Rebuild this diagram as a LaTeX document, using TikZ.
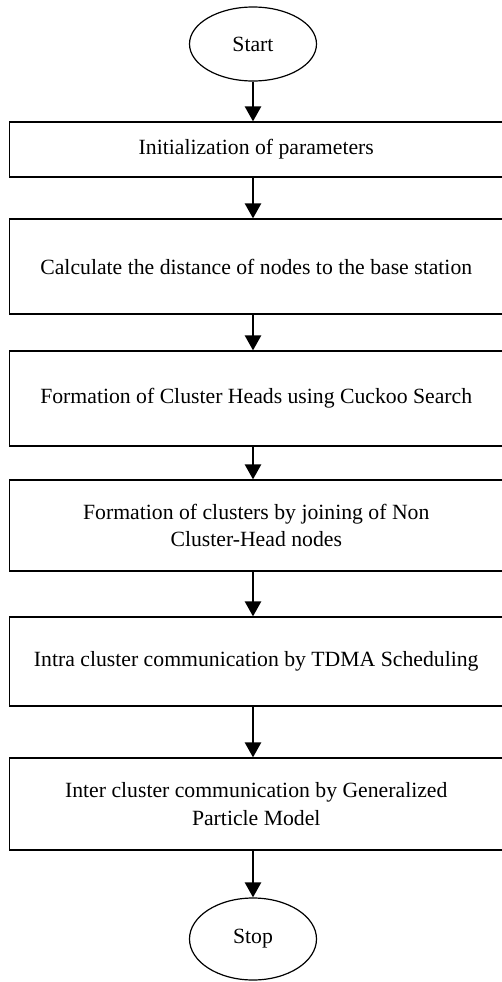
\documentclass[tikz,border=0pt]{standalone}
\usepackage{fontspec}
\setmainfont{Liberation Serif}
\usetikzlibrary{shapes.geometric,arrows.meta}

\begin{document}
\begin{tikzpicture}[x=1bp,y=-1bp,
    every node/.style={font=\fontsize{21.8}{28}\selectfont},
    terminal/.style={draw,ellipse,line width=1.2bp,minimum width=127bp,minimum height=74bp,inner sep=0pt},
    stepbox/.style={draw,rectangle,line width=1.2bp,minimum width=493.5bp,align=center,inner sep=0pt},
    flow/.style={line width=2.5bp,-{Triangle[width=16bp,length=15bp]}}]
         \useasboundingbox (0,0) rectangle (502,982);
         \node[terminal] (start) at (253,44) {Start};
         \node[stepbox,minimum height=55bp] (init) at (256.25,149.5)
            {Initialization of parameters};
         \node[stepbox,minimum height=95bp] (dist) at (256.25,266.5)
            {Calculate the distance of nodes to the base station};
         \node[stepbox,minimum height=95bp] (heads) at (256.25,398.5)
            {Formation of Cluster Heads using Cuckoo Search};
         \node[stepbox,minimum height=91bp] (join) at (256.25,525.5)
            {Formation of clusters by joining of Non\\Cluster-Head nodes};
         \node[stepbox,minimum height=89bp] (intra) at (256.25,661.5)
            {Intra cluster communication by TDMA Scheduling};
         \node[stepbox,minimum height=92bp] (inter) at (256.25,804)
            {Inter cluster communication by Generalized\\Particle Model};
         \node[terminal,minimum height=82bp] (stop) at (253,939) {Stop};
         \draw[flow] (start) -- (start |- init.north);
         \foreach \a/\b in {init/dist,dist/heads,heads/join,join/intra,intra/inter}
            \draw[flow] (\a.south -| start) -- (\b.north -| start);
         \draw[flow] (inter.south -| start) -- (stop);
      \end{tikzpicture}
\end{document}
